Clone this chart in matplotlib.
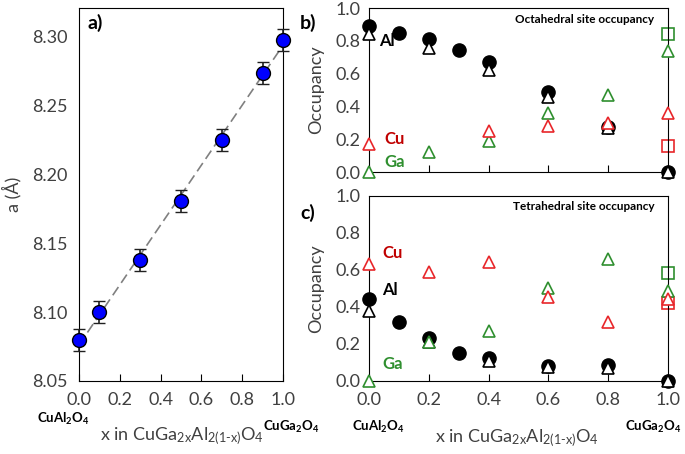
import numpy as np
import matplotlib
matplotlib.use("Agg")
import matplotlib.pyplot as plt

plt.rcParams['font.family'] = ['Lato', 'DejaVu Sans']
plt.rcParams['mathtext.default'] = 'regular'

# panel a: lattice parameter
x_a = [0.0, 0.1, 0.3, 0.5, 0.7, 0.9, 1.0]
a_val = [8.080, 8.100, 8.138, 8.181, 8.225, 8.274, 8.298]
a_err = [0.008, 0.008, 0.008, 0.008, 0.008, 0.008, 0.008]

# panel b: octahedral site occupancy
x_circ = [0.0, 0.1, 0.2, 0.3, 0.4, 0.6, 0.8, 1.0]
x_tri = [0.0, 0.2, 0.4, 0.6, 0.8, 1.0]
oct_al_circ = [0.89, 0.85, 0.81, 0.745, 0.67, 0.486, 0.275, 0.0]
oct_al_tri = [0.84, 0.755, 0.62, 0.46, 0.27, 0.0]
x_cu_oct = [0.0, 0.4, 0.6, 0.8, 1.0]
oct_cu_tri = [0.17, 0.25, 0.28, 0.30, 0.36]
oct_ga_tri = [0.0, 0.12, 0.19, 0.36, 0.47, 0.74]
oct_cu_sq = [0.16]
oct_ga_sq = [0.84]

# panel c: tetrahedral site occupancy
tet_al_circ = [0.44, 0.32, 0.23, 0.153, 0.122, 0.083, 0.086, 0.0]
tet_al_tri = [0.38, 0.21, 0.11, 0.077, 0.07, 0.0]
tet_cu_tri = [0.63, 0.59, 0.64, 0.455, 0.317, 0.44]
tet_ga_tri = [0.0, 0.21, 0.27, 0.50, 0.66, 0.485]
tet_cu_sq = [0.42]
tet_ga_sq = [0.585]

ticks = [0.0, 0.2, 0.4, 0.6, 0.8, 1.0]
grey = '#404040'
red = '#e8262a'
green = '#2f8f2f'

fig = plt.figure(figsize=(6.85, 4.54), dpi=100)
ax_a = fig.add_axes([0.1153, 0.1608, 0.298, 0.8216])
ax_b = fig.add_axes([0.5387, 0.6211, 0.4365, 0.3612])
ax_c = fig.add_axes([0.5387, 0.1608, 0.4365, 0.4084])

# ---- a)
fit = np.polyfit(x_a, a_val, 1)
xx = np.array([0.0, 1.0])
ax_a.plot(xx, np.polyval(fit, xx), ls=(0, (6, 3)), color='#808080', lw=1.2, zorder=1)
ax_a.errorbar(x_a, a_val, yerr=a_err, fmt='o', ms=10, mfc='#0000ff', mec='black',
              mew=1.0, ecolor='#202020', elinewidth=1.2, capsize=4, capthick=1.2,
              clip_on=False, zorder=3)
ax_a.set_xlim(0, 1)
ax_a.set_ylim(8.05, 8.321)
ax_a.set_xticks(ticks)
ax_a.set_xticklabels([f"{t:.1f}" for t in ticks])
ax_a.set_yticks([8.05, 8.10, 8.15, 8.20, 8.25, 8.30])
ax_a.set_yticklabels([f"{t:.2f}" for t in [8.05, 8.10, 8.15, 8.20, 8.25, 8.30]])
ax_a.tick_params(axis='x', direction='in', length=5, pad=8, labelsize=13, labelcolor=grey)
ax_a.tick_params(axis='y', length=0, pad=8, labelsize=13, labelcolor=grey)
ax_a.set_ylabel('a (Å)', fontsize=13, color=grey, labelpad=8)
ax_a.text(0.04, 0.985, 'a)', transform=ax_a.transAxes, fontsize=14, fontweight='bold',
          va='top', ha='left')

# ---- b) and c)
def occ_panel(ax, al_c, al_t, cu_x, cu_t, ga_t, cu_s, ga_s):
    kw = dict(ls='none', clip_on=False, ms=8.5, mfc='white', mew=1.2)
    ax.plot(x_circ, al_c, marker='o', mfc='black', mec='black', ls='none',
            clip_on=False, ms=9.5, zorder=2)
    ax.plot(x_tri, al_t, marker='^', mec='black', zorder=3, **kw)
    ax.plot(x_tri, ga_t, marker='^', mec=green, zorder=4, **kw)
    ax.plot(cu_x, cu_t, marker='^', mec=red, zorder=4, **kw)
    ax.plot([1.0], ga_s, marker='s', mfc='none', mec=green, mew=1.2, ls='none',
            clip_on=False, ms=8, zorder=2)
    ax.plot([1.0], cu_s, marker='s', mfc='none', mec=red, mew=1.2, ls='none',
            clip_on=False, ms=8, zorder=2)
    ax.set_xlim(0, 1)
    ax.set_ylim(0, 1.0)
    ax.set_xticks(ticks)
    ax.set_yticks(ticks)
    ax.set_yticklabels([f"{t:.1f}" for t in ticks])
    ax.tick_params(axis='x', direction='in', length=5, pad=8, labelsize=13, labelcolor=grey)
    ax.tick_params(axis='y', length=0, pad=6, labelsize=13, labelcolor=grey)
    ax.set_ylabel('Occupancy', fontsize=13, color=grey, labelpad=8)

occ_panel(ax_b, oct_al_circ, oct_al_tri, x_cu_oct, oct_cu_tri, oct_ga_tri, oct_cu_sq, oct_ga_sq)
occ_panel(ax_c, tet_al_circ, tet_al_tri, x_tri, tet_cu_tri, tet_ga_tri, tet_cu_sq, tet_ga_sq)
ax_b.set_xticklabels([])
ax_c.set_xticklabels([f"{t:.1f}" for t in ticks])

ax_b.text(0.035, 0.80, 'Al', fontsize=12, fontweight='bold', color='black', va='center')
ax_b.text(0.05, 0.20, 'Cu', fontsize=12, fontweight='bold', color='#c00000', va='center')
ax_b.text(0.05, 0.06, 'Ga', fontsize=12, fontweight='bold', color=green, va='center')
ax_b.text(0.955, 0.93, 'Octahedral site occupancy', fontsize=8.5, fontweight='bold',
          ha='right', va='center')

ax_c.text(0.045, 0.69, 'Cu', fontsize=12, fontweight='bold', color='#c00000', va='center')
ax_c.text(0.045, 0.49, 'Al', fontsize=12, fontweight='bold', color='black', va='center')
ax_c.text(0.045, 0.09, 'Ga', fontsize=12, fontweight='bold', color=green, va='center')
ax_c.text(0.955, 0.94, 'Tetrahedral site occupancy', fontsize=8.5, fontweight='bold',
          ha='right', va='center')

fig.text(300 / 685, 1 - 23 / 454, 'b)', fontsize=14, fontweight='bold', va='center')
fig.text(300 / 685, 1 - 213 / 454, 'c)', fontsize=14, fontweight='bold', va='center')

# composition labels under the x axes
xlab = 'x in CuGa$_{2x}$Al$_{2(1\u2010x)}$O$_4$'
fig.text(182 / 685, 1 - 436 / 454, xlab, fontsize=13, color=grey, ha='center', va='center')
fig.text(517 / 685, 1 - 438 / 454, xlab, fontsize=13, color=grey, ha='center', va='center')
for xp, yp, s in [(63, 419, 'CuAl$_2$O$_4$'), (291, 427, 'CuGa$_2$O$_4$'),
                  (378, 427, 'CuAl$_2$O$_4$'), (653, 427, 'CuGa$_2$O$_4$')]:
    fig.text(xp / 685, 1 - yp / 454, s, fontsize=9.5, fontweight='bold', ha='center', va='center')

fig.savefig('out.png', dpi=100)
